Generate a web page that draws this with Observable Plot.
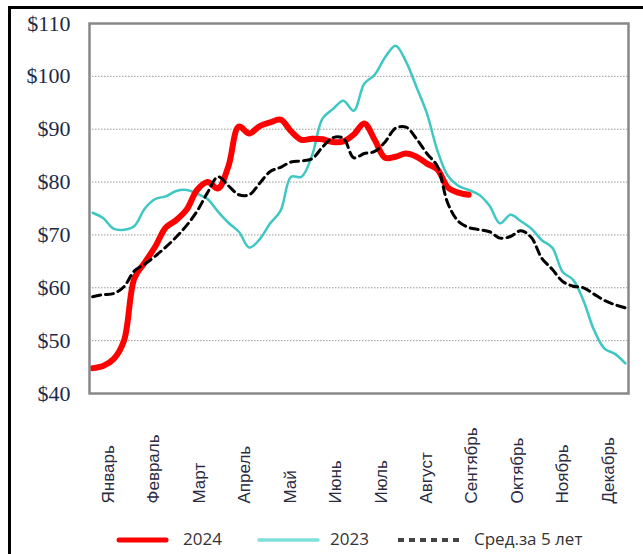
<!DOCTYPE html>
<html>
<head>
<meta charset="utf-8">
<script src="https://cdn.jsdelivr.net/npm/d3@7"></script>
<script src="https://cdn.jsdelivr.net/npm/@observablehq/plot@0.6"></script>
<style>
  html, body { margin: 0; padding: 0; background: #fff; }
  #wrap { position: relative; width: 643px; height: 554px; overflow: hidden; }
  #border { position: absolute; left: 8px; top: 6px; width: 700px; height: 700px;
            border-left: 3px solid #000; border-top: 3px solid #000; }
  #chart { position: absolute; left: 0; top: 0; }
  #legend { position: absolute; left: 0; top: 527px; width: 643px; height: 27px;
            font-family: "Open Sans", sans-serif; font-size: 17px; color: #333; }
  #legend span { position: absolute; top: 0px; line-height: 24px; }
</style>
</head>
<body>
<div id="wrap">
  <div id="border"></div>
  <div id="chart"></div>
  <div id="legend">
    <svg width="643" height="27" style="position:absolute;left:0;top:0">
      <line x1="119" x2="166" y1="13" y2="13" stroke="#ff0000" stroke-width="5" stroke-linecap="round"/>
      <line x1="259" x2="318" y1="13" y2="13" stroke="#7fe0dc" stroke-width="3.5" stroke-linecap="round"/>
      <line x1="398" x2="462" y1="13" y2="13" stroke="#444" stroke-width="4" stroke-dasharray="6,5"/>
    </svg>
    <span style="left:183px">2024</span>
    <span style="left:330px">2023</span>
    <span style="left:474px">Сред.за 5 лет</span>
  </div>
</div>
<script>
const months = ["Январь","Февраль","Март","Апрель","Май","Июнь","Июль","Август","Сентябрь","Октябрь","Ноябрь","Декабрь"];
const monthWeek = [1.52,5.87,10.22,14.57,18.92,23.27,27.62,31.97,36.32,40.67,45.02,49.37];
const yTicks = [40,50,60,70,80,90,100,110];

const s2024 = [44.8,45.2,46.5,50,61.8,64.8,67.8,71.4,72.8,74.8,78.5,80,78.8,83,90.5,89.2,90.6,91.3,91.8,89.6,88,88.2,88.1,87.6,87.7,89,91.1,88,84.6,84.8,85.4,84.8,83.5,82.4,79,78,77.6];
const s2023 = [74.2,73.2,71.2,71,71.7,75,76.8,77.3,78.3,78.5,77.8,76.8,74.4,72.3,70.6,67.6,69.2,72.2,74.6,81,81,85,92,93.8,95.4,93.5,98.6,100.3,103.6,105.8,102.8,98,93,86,81.2,79.3,78.5,77.6,75.5,72.2,73.8,72.6,71.2,69,67.6,63,61.5,57.5,52,48.5,47.5,45.7];
const avg5 = [58.3,58.7,58.9,60.2,63.2,64.5,66,67.7,69.6,71.8,74.5,78,81,79.3,77.6,77.6,79.8,82,82.8,83.8,84,84.4,86.6,88.4,88.3,84.6,85.4,85.8,87.6,90.2,90.4,88.2,85.4,83,76,72.6,71.4,71,70.6,69.4,69.7,70.8,69.5,65.6,63.5,61.2,60.3,60,58.8,57.6,56.8,56.2];

const toRows = arr => arr.map((v, i) => ({w: i, v}));

const chart = Plot.plot({
  width: 643,
  height: 520,
  marginLeft: 89,
  marginRight: 15,
  marginTop: 23,
  marginBottom: 127,
  style: {background: "transparent", overflow: "visible"},
  x: {domain: [-0.3, 51.3], axis: null},
  y: {domain: [40, 110], ticks: yTicks, tickSize: 0, tickPadding: 19,
      tickFormat: d => "$" + d, label: null},
  marks: [
    Plot.ruleY(yTicks.filter(d => d > 40 && d < 110), {stroke: "#999", strokeWidth: 1, strokeDasharray: "1.5,1.5"}),
    Plot.axisY({ticks: yTicks, tickSize: 0, tickPadding: 19, tickFormat: d => "$" + d,
      fontFamily: "Liberation Serif", fontSize: 22, fill: "#1c2a48", label: null}),
    Plot.line(toRows(s2023), {x: "w", y: "v", stroke: "#3fc7c4", strokeWidth: 2.5, curve: "catmull-rom"}),
    Plot.line(toRows(s2024), {x: "w", y: "v", stroke: "#ff0000", strokeWidth: 6, curve: "catmull-rom"}),
    Plot.line(toRows(avg5), {x: "w", y: "v", stroke: "#000", strokeWidth: 3, strokeDasharray: "8,5", curve: "catmull-rom"}),
    Plot.frame({stroke: "#888", strokeWidth: 2.5}),
    Plot.text(months, {x: (d, i) => monthWeek[i], text: d => d, frameAnchor: "bottom",
      rotate: -90, textAnchor: "start", lineAnchor: "middle", dy: 110,
      fontFamily: "Liberation Sans", fontSize: 17, fill: "#2a2a40"})
  ]
});
document.getElementById("chart").appendChild(chart);
</script>
</body>
</html>
